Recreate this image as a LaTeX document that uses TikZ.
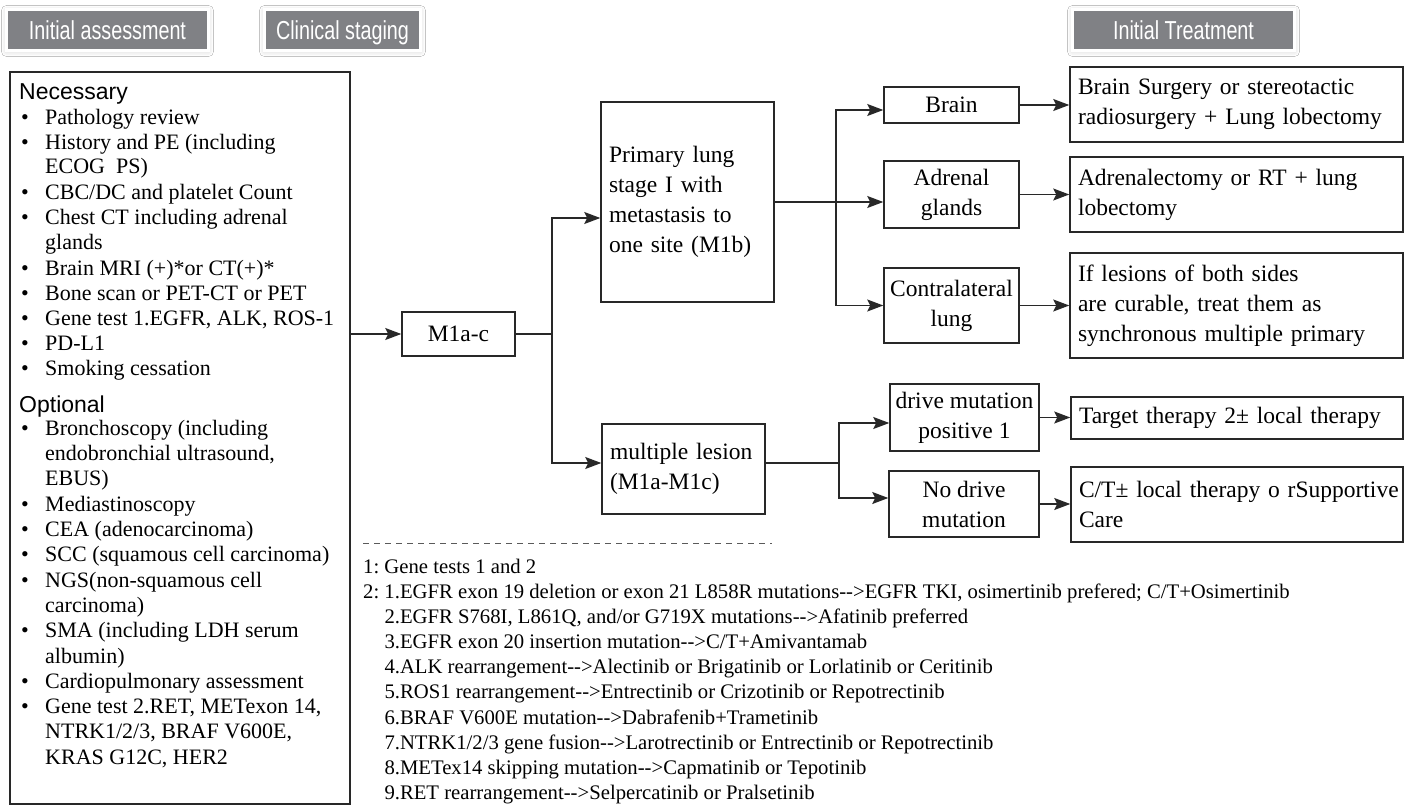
\documentclass[tikz,border=0pt]{standalone}
\usepackage{fontspec}
\setmainfont{Liberation Serif}
\newfontfamily\hdrfam[FakeStretch=0.76]{Liberation Sans}
\newfontfamily\lsansfam{Liberation Sans}
\usetikzlibrary{arrows.meta,shadows.blur,calc}
\definecolor{hdrgray}{RGB}{128,129,133}
\definecolor{linec}{RGB}{40,40,40}
\definecolor{dashc}{RGB}{90,90,90}
\newcommand\mydashgt{-{}-{}>}
\newcommand\bitem[3]{\node[ltxt] (#1) at (45,#2+7.7) {#3}; \node[ltxt] (#1b) at (21,#2+7.7) {\textbullet};}
\newcommand\citem[3]{\node[ltxt] (#1) at (45,#2+7.7) {#3};}
\newcommand\fitem[4]{\node[ftxt] (#1) at (#2,#3+7) {#4};}
\frenchspacing
\tikzset{
  hdr/.style={fill=hdrgray, draw=white, line width=3pt, text=white,
    font={\hdrfam\fontsize{26}{30}\selectfont}, inner sep=0, minimum height=41pt,
    text height=18.6pt, text depth=0pt,
    blur shadow={shadow xshift=0pt, shadow yshift=-1pt, shadow blur radius=5pt, shadow opacity=20}},
  box/.style={draw=linec, line width=1.5pt, inner sep=0, font={\fontsize{23.5}{30}\selectfont}},
  lbox/.style={box, inner xsep=8pt, align=left},
  cbox/.style={box, align=center},
  arr/.style={draw=linec, line width=1.4pt, -{Stealth[length=16pt,width=12pt,inset=3pt]}},
  conn/.style={draw=linec, line width=1.4pt},
  ltxt/.style={anchor=base west, inner sep=0, font={\fontsize{22}{25}\selectfont}},
  lhead/.style={anchor=base west, inner sep=0, font={\lsansfam\fontsize{23}{25}\selectfont}},
  ftxt/.style={anchor=base west, inner sep=0, font={\fontsize{20.7}{25}\selectfont}},
}
\begin{document}
\frenchspacing
\begin{tikzpicture}[x=1pt,y=-1pt]
\useasboundingbox (0,0) rectangle (1404,805);
\fill[white] (0,0) rectangle (1404,805);

% headers
\node[hdr, minimum width=202pt] (h1) at (107.5,30) {Initial assessment};
\node[hdr, minimum width=156pt] (h2) at (342.5,30) {Clinical staging};
\node[hdr, minimum width=222pt] (h3) at (1183.5,30) {Initial Treatment};

% left box
\node[box, minimum width=340pt, minimum height=732pt] (L) at (180,438) {};
\node[lhead] (nec) at (19,92+8) {Necessary};
\bitem{a1}{117}{Pathology review}
\bitem{a2}{142}{History and PE (including}
\citem{a2c}{166}{ECOG\ \ PS)}
\bitem{a3}{192}{CBC/DC and platelet Count}
\bitem{a4}{217}{Chest CT including adrenal}
\citem{a4c}{242}{glands}
\bitem{a5}{268}{Brain MRI (+)*or CT(+)*}
\bitem{a6}{293}{Bone scan or PET-CT or PET}
\bitem{a7}{318}{Gene test 1.EGFR, ALK, ROS-1}
\bitem{a8}{343}{PD-L1}
\bitem{a9}{368}{Smoking cessation}
\node[lhead] (opt) at (19,404+8) {Optional};
\bitem{b1}{428}{Bronchoscopy (including}
\citem{b1c}{453}{endobronchial ultrasound,}
\citem{b1d}{478}{EBUS)}
\bitem{b2}{504}{Mediastinoscopy}
\bitem{b3}{529}{CEA (adenocarcinoma)}
\bitem{b4}{554}{SCC (squamous cell carcinoma)}
\bitem{b5}{580}{NGS(non-squamous cell}
\citem{b5c}{605}{carcinoma)}
\bitem{b6}{630}{SMA (including LDH serum}
\citem{b6c}{656}{albumin)}
\bitem{b7}{681}{Cardiopulmonary assessment}
\bitem{b8}{706}{Gene test 2.RET, METexon 14,}
\citem{b8c}{731}{NTRK1/2/3, BRAF V600E,}
\citem{b8d}{757}{KRAS G12C, HER2}

% staging boxes
\node[cbox, minimum width=113pt, minimum height=44pt] (m1) at (458.5,334) {M1a-c};
\node[lbox, text width=157pt, minimum height=200pt] (prim) at (687.5,202) {Primary lung\\stage I with\\metastasis to\\one site (M1b)};
\node[lbox, text width=147pt, minimum height=90pt] (mult) at (683.5,469) {multiple lesion\\(M1a-M1c)};

\node[cbox, minimum width=135pt, minimum height=36pt] (brain) at (951.5,105) {Brain};
\node[cbox, minimum width=135pt, minimum height=67pt] (adr) at (951.5,194.5) {Adrenal\\glands};
\node[cbox, minimum width=135pt, minimum height=75pt] (contra) at (951.5,305.5) {Contralateral\\lung};
\node[cbox, minimum width=149pt, minimum height=67pt] (drv) at (964.5,417.5) {drive mutation\\positive 1};
\node[cbox, minimum width=150pt, minimum height=66pt] (nod) at (964,504) {No drive\\mutation};

% treatment boxes
\node[lbox, text width=317pt, minimum height=75pt] (t1) at (1236.5,104.5) {\mbox{Brain Surgery or stereotactic}\\\mbox{radiosurgery + Lung lobectomy}};
\node[lbox, text width=317pt, minimum height=75pt] (t2) at (1236.5,194.5) {\mbox{Adrenalectomy or RT + lung}\\lobectomy};
\node[lbox, text width=317pt, minimum height=105pt] (t3) at (1236.5,305.5) {\mbox{If lesions of both sides}\\\mbox{are curable, treat them as}\\\mbox{synchronous multiple primary}};
\node[lbox, text width=316pt, minimum height=42pt] (tg) at (1237,418) {\mbox{Target therapy 2± local therapy}};
\node[lbox, text width=316pt, minimum height=75pt] (ct) at (1237,504.5) {\mbox{C/T± local therapy o rSupportive}\\Care};

% connectors
\coordinate (j1) at (552,334);
\coordinate (j2) at (836,202);
\coordinate (j3) at (839,463);
\draw[arr] (L.east |- m1.west) -- (m1.west);
\draw[conn] (m1.east) -- (j1);
\draw[arr] (j1) |- ([yshift=-16pt]prim.west);
\draw[arr] (j1) |- ([yshift=6pt]mult.west);
\draw[arr] (prim.east) -- (prim.east -| adr.west);
\draw[arr] (j2) |- ([yshift=-5pt]brain.west);
\draw[arr] (j2) |- (contra.west);
\draw[arr] (brain.east) -- (brain.east -| t1.west);
\draw[arr] (adr.east) -- (adr.east -| t2.west);
\draw[arr] (contra.east) -- (contra.east -| t3.west);
\draw[conn] ([yshift=6pt]mult.east) -- (j3);
\draw[arr] (j3) |- ([yshift=-5.5pt]drv.west);
\draw[arr] (j3) |- ([yshift=6pt]nod.west);
\draw[arr] (drv.east) -- (drv.east -| tg.west);
\draw[arr] (nod.east) -- (nod.east -| ct.west);

% footnotes
\coordinate (d1) at (363,543);
\coordinate (d2) at (772,543);
\draw[dashc, line width=1pt, dash pattern=on 6pt off 5pt] (d1) -- (d2);
\fitem{f1}{363}{566}{1: Gene tests 1 and 2}
\fitem{f2}{363}{591}{2: 1.EGFR exon 19 deletion or exon 21 L858R mutations\mydashgt EGFR TKI, osimertinib prefered; C/T+Osimertinib}
\fitem{f3}{384.3}{616}{2.EGFR S768I, L861Q, and/or G719X mutations\mydashgt Afatinib preferred}
\fitem{f4}{384.3}{641}{3.EGFR exon 20 insertion mutation\mydashgt C/T+Amivantamab}
\fitem{f5}{384.3}{666}{4.ALK rearrangement\mydashgt Alectinib or Brigatinib or Lorlatinib or Ceritinib}
\fitem{f6}{384.3}{691}{5.ROS1 rearrangement\mydashgt Entrectinib or Crizotinib or Repotrectinib}
\fitem{f7}{384.3}{717}{6.BRAF V600E mutation\mydashgt Dabrafenib+Trametinib}
\fitem{f8}{384.3}{742}{7.NTRK1/2/3 gene fusion\mydashgt Larotrectinib or Entrectinib or Repotrectinib}
\fitem{f9}{384.3}{767}{8.METex14 skipping mutation\mydashgt Capmatinib or Tepotinib}
\fitem{f10}{384.3}{792}{9.RET rearrangement\mydashgt Selpercatinib or Pralsetinib}
\end{tikzpicture}
\end{document}
